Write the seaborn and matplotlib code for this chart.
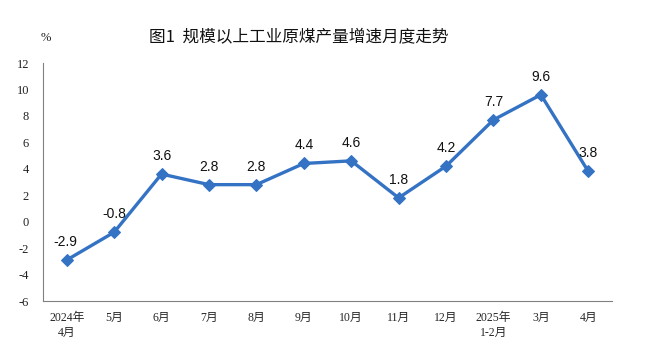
import numpy as np
import pandas as pd
import matplotlib
matplotlib.use("Agg")
import matplotlib.pyplot as plt
import seaborn as sns

categories = ["2024年\n4月", "5月", "6月", "7月", "8月", "9月", "10月", "11月", "12月", "2025年\n1-2月", "3月", "4月"]
values = [-2.9, -0.8, 3.6, 2.8, 2.8, 4.4, 4.6, 1.8, 4.2, 7.7, 9.6, 3.8]
yticks = [-6, -4, -2, 0, 2, 4, 6, 8, 10, 12]

sns.set_style("white")
plt.rcParams['font.family'] = ['Liberation Serif', 'Noto Sans CJK SC']

fig = plt.figure(figsize=(6.48, 3.63), dpi=100)
ax = fig.add_axes([43/648, 1-301/363, (612-43)/648, (301-63)/363])

df = pd.DataFrame({"pos": np.arange(len(categories)), "val": values})
color = "#3473C4"
sns.lineplot(data=df, x="pos", y="val", ax=ax, color=color, linewidth=2.4,
             marker="D", markersize=6, markeredgecolor=color, markerfacecolor=color)

ax.set_xlim(-0.5, len(categories) - 0.5)
ax.set_ylim(-6, 12)
ax.set_yticks(yticks)
ax.set_yticklabels([str(v) for v in yticks], fontsize=9,
                   family=['Liberation Serif', 'Noto Sans CJK SC'])

# category labels at centres, ticks at boundaries
ax.set_xticks(np.arange(-0.5, len(categories) + 0.5, 1))
ax.set_xticklabels([])
ax.set_xticks(np.arange(len(categories)), minor=True)
ax.set_xticklabels(categories, minor=True, fontsize=8.5, linespacing=1.3,
                   family=['Liberation Serif', 'Noto Sans CJK SC'])
ax.tick_params(axis='x', which='minor', length=0, pad=8)
ax.tick_params(axis='x', which='major', length=4, color='#808080', width=0.8, direction='out')
ax.tick_params(axis='y', length=4, color='#808080', width=0.8, direction='out', pad=6)
ax.tick_params(axis='both', labelcolor='#222222')

for s in ['top', 'right']:
    ax.spines[s].set_visible(False)
for s in ['left', 'bottom']:
    ax.spines[s].set_color('#808080')
    ax.spines[s].set_linewidth(0.8)
ax.set_xlabel("")
ax.set_ylabel("")

for i, v in enumerate(values):
    dx = -1 if i == 0 else 0
    ax.annotate(f"{v}", (i, v), xytext=(dx, 8), textcoords='offset points',
                ha='center', va='bottom', fontsize=10,
                family=['Liberation Sans', 'Noto Sans CJK SC'], color='#111111')

fig.text(299/648, 1-38/363, "图1  规模以上工业原煤产量增速月度走势", ha='center', va='center',
         fontsize=12, family=['Noto Sans CJK SC', 'DejaVu Sans'], color='#111111')
fig.text(46/648, 1-38/363, "%", ha='center', va='center', fontsize=9,
         family=['Liberation Serif', 'DejaVu Sans'], color='#222222')

fig.savefig("out.png", dpi=100)
